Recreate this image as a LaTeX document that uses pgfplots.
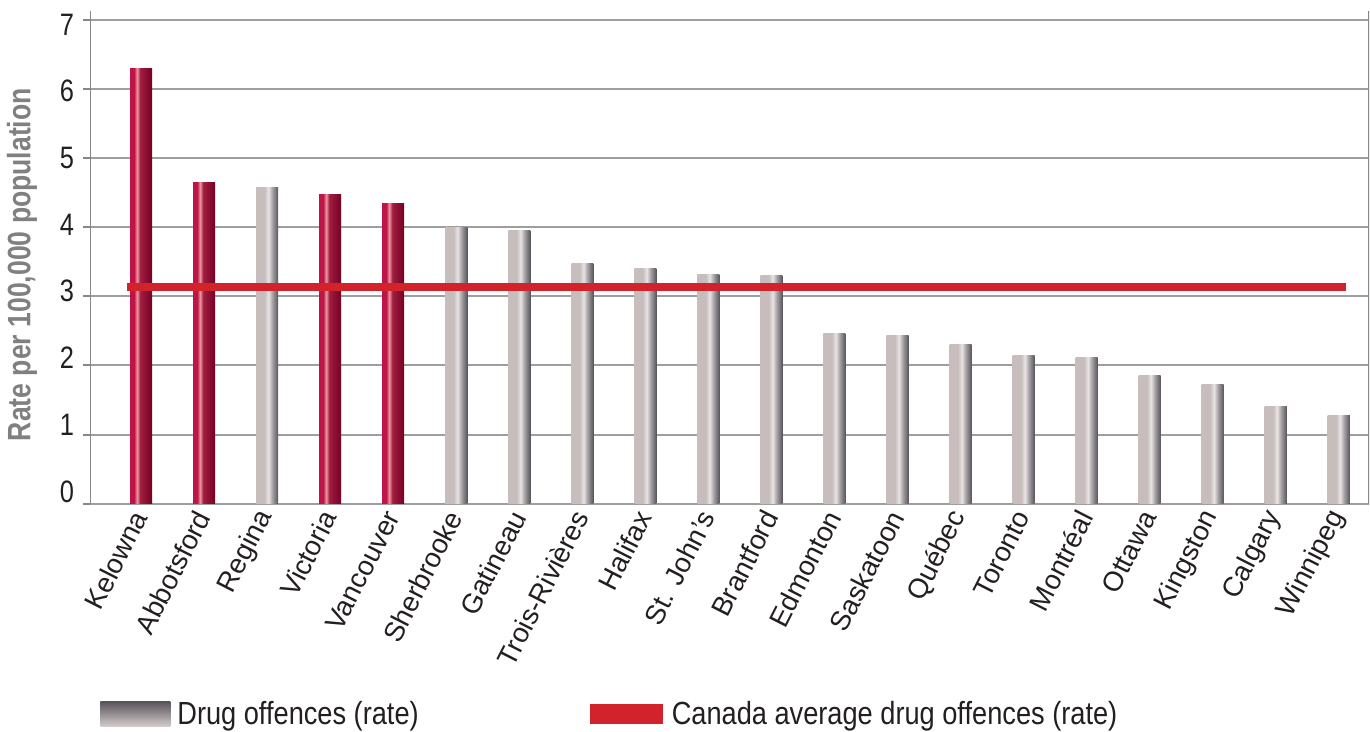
\documentclass[border=0pt]{standalone}
\usepackage{pgfplots}
\pgfplotsset{compat=1.18}
\usepackage{fontspec}
\setmainfont{Liberation Sans}
\newfontfamily\condfont{Liberation Sans}[FakeStretch=0.82]
\newfontfamily\legfont{Liberation Sans}[FakeStretch=0.85]
\definecolor{avgred}{RGB}{210,35,45}
\definecolor{gridgray}{RGB}{158,158,158}
\definecolor{axgray}{RGB}{135,135,135}
\definecolor{txt}{RGB}{35,31,32}
\definecolor{ylab}{RGB}{128,128,128}
\definecolor{gL}{RGB}{200,189,189}
\definecolor{gLL}{RGB}{212,203,203}
\definecolor{gH}{RGB}{232,228,228}
\definecolor{gM}{RGB}{165,160,163}
\definecolor{gD}{RGB}{88,84,92}
\definecolor{rL}{RGB}{190,20,72}
\definecolor{rH}{RGB}{236,150,160}
\definecolor{rM}{RGB}{160,30,62}
\definecolor{rD}{RGB}{118,0,38}
\pgfdeclarehorizontalshading{graybar}{100bp}{color(0bp)=(gL); color(25bp)=(gL); color(44bp)=(gL); color(53bp)=(gH); color(62bp)=(gM); color(75bp)=(gD); color(100bp)=(gD)}
\pgfdeclarehorizontalshading{redbar}{100bp}{color(0bp)=(rL); color(25bp)=(rL); color(34bp)=(rL); color(41bp)=(rH); color(48bp)=(rM); color(75bp)=(rD); color(100bp)=(rD)}
\pgfdeclareverticalshading{graylegend}{100bp}{color(0bp)=(gLL); color(25bp)=(gLL); color(75bp)=(gD); color(100bp)=(gD)}
\pgfplotsset{
  gbar/.style={ybar, bar width=0.35, bar shift=0pt, draw=none, shading=graybar, forget plot},
  rbar/.style={ybar, bar width=0.35, bar shift=0pt, draw=none, shading=redbar, forget plot},
}
\begin{document}
\begin{tikzpicture}
\path[use as bounding box] (-45pt,-114.15pt) rectangle (640pt,251.85pt);
\begin{axis}[
  at={(0,0)}, anchor=south west, scale only axis,
  width=639.5pt, height=246pt,
  xmin=-0.81, xmax=19.48, ymin=0, ymax=7.12,
  axis line style={draw=none},
  ytick={0,1,2,3,4,5,6,7},
  ymajorgrids, grid style={gridgray, line width=1pt},
  ytick pos=left, tick align=outside, major tick length=3.5pt,
  ytick style={axgray, line width=1pt},
  xtick={0,...,19}, xtick style={draw=none},
  xticklabels={Kelowna,Abbotsford,Regina,Victoria,Vancouver,Sherbrooke,Gatineau,Trois-Rivières,Halifax,St. John’s,Brantford,Edmonton,Saskatoon,Québec,Toronto,Montréal,Ottawa,Kingston,Calgary,Winnipeg},
  xticklabel style={rotate=63, anchor=east, inner sep=1pt, text=txt, font=\fontsize{13.8}{16}\selectfont},
  /pgf/number format/assume math mode=true,
  yticklabel={\pgfmathsetmacro\rb{0.8-1.19*\tick}\raisebox{\rb pt}{\pgfmathprintnumber{\tick}}},
  yticklabel style={anchor=base east, text=txt, font=\condfont\fontsize{15.5}{18}\selectfont, xshift=-1pt},
  ylabel={Rate per 100,000 population},
  ylabel style={at={(axis description cs:-0.0532,0.486)}, anchor=center, text=ylab, font=\condfont\bfseries\fontsize{16.2}{19}\selectfont},
  legend columns=2,
  legend style={at={(axis description cs:0.0078,-0.4274)}, anchor=west, draw=none, fill=none,
    font=\legfont\fontsize{16}{19}\selectfont, text=txt, inner sep=0pt,
    nodes={inner sep=0pt},
    /tikz/every odd column/.append style={column sep=3.5pt},
    /tikz/every even column/.append style={column sep=85.5pt},
    cells={anchor=west}},
]
% Drug offences (rate): grey bars
\addplot[ybar, bar width=0.35, bar shift=0pt, draw=none, shading=graybar,
  legend image code/.code={\shade[shading=graylegend] (0pt,-6.25pt) rectangle (35pt,6.25pt);}]
  coordinates {(2,4.58)};
\addlegendentry{Drug offences (rate)}
\addplot[avgred, line width=4pt, mark=none,
  legend image code/.code={\fill[avgred] (0pt,-3pt) rectangle (32.5pt,3pt); \path[draw=none, fill=none] (0pt,0pt) rectangle (35.5pt,0.1pt);}]
  coordinates {(-0.22,3.13) (19.12,3.13)};
\addlegendentry{Canada average drug offences (rate)}
\addplot[gbar] coordinates {(5,3.99)};
\addplot[gbar] coordinates {(6,3.95)};
\addplot[gbar] coordinates {(7,3.47)};
\addplot[gbar] coordinates {(8,3.40)};
\addplot[gbar] coordinates {(9,3.32)};
\addplot[gbar] coordinates {(10,3.30)};
\addplot[gbar] coordinates {(11,2.47)};
\addplot[gbar] coordinates {(12,2.43)};
\addplot[gbar] coordinates {(13,2.30)};
\addplot[gbar] coordinates {(14,2.15)};
\addplot[gbar] coordinates {(15,2.11)};
\addplot[gbar] coordinates {(16,1.86)};
\addplot[gbar] coordinates {(17,1.73)};
\addplot[gbar] coordinates {(18,1.41)};
\addplot[gbar] coordinates {(19,1.27)};
% highlighted (red) bars
\addplot[rbar] coordinates {(0,6.30)};
\addplot[rbar] coordinates {(1,4.65)};
\addplot[rbar] coordinates {(3,4.47)};
\addplot[rbar] coordinates {(4,4.34)};
% Canada average line drawn again on top of the bars
\addplot[avgred, line width=4pt, mark=none, forget plot]
  coordinates {(-0.22,3.13) (19.12,3.13)};
\draw[axgray, line width=1pt] ([yshift=-7pt]rel axis cs:0,0) -- ([yshift=3pt]rel axis cs:0,1);
\draw[axgray, line width=1pt] (rel axis cs:1,0) -- ([yshift=1.5pt]rel axis cs:1,1);
\end{axis}
\end{tikzpicture}
\end{document}
